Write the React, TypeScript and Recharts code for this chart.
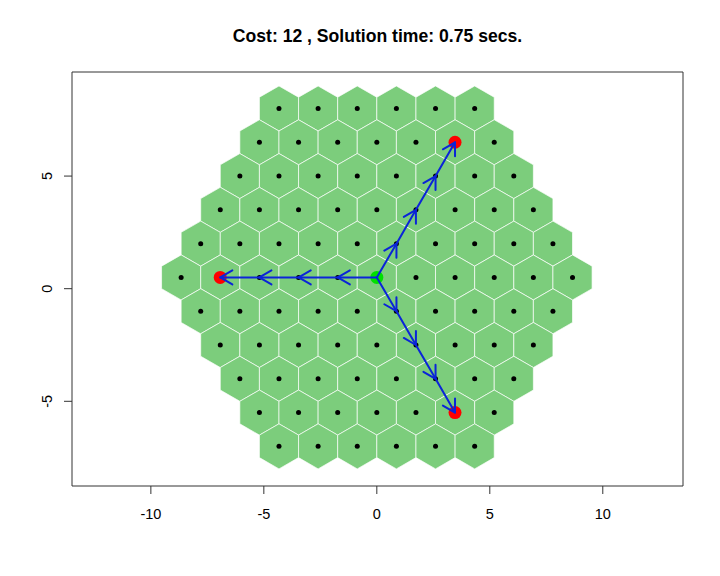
import React from 'react';
import { ScatterChart, Scatter, XAxis, YAxis, ReferenceArea } from 'recharts';

const TITLE = 'Cost: 12 , Solution time: 0.75 secs.';
const X_TICKS = [-10, -5, 0, 5, 10];
const Y_TICKS = [-5, 0, 5];
const X_DOMAIN = [-13.49, 13.55];
const Y_DOMAIN = [-8.76, 9.62];

// hex board, rows top to bottom: centre height and number of cells in the row
const ROW_Y = [8, 6.5, 5, 3.5, 2, 0.5, -1, -2.5, -4, -5.5, -7];
const ROW_CELLS = [6, 7, 8, 9, 10, 11, 10, 9, 8, 7, 6];
const CELL_STEP = 1.732;
const HEX_RADIUS = 1;

const START = [{ x: 0, y: 0.5 }];
const GOALS = [
  { x: -6.93, y: 0.5 },
  { x: 3.46, y: 6.5 },
  { x: 3.46, y: -5.5 },
];
const PATH_WEST = [
  { x: 0, y: 0.5 },
  { x: -1.73, y: 0.5 },
  { x: -3.46, y: 0.5 },
  { x: -5.2, y: 0.5 },
  { x: -6.93, y: 0.5 },
];
const PATH_NORTH = [
  { x: 0, y: 0.5 },
  { x: 0.87, y: 2 },
  { x: 1.73, y: 3.5 },
  { x: 2.6, y: 5 },
  { x: 3.46, y: 6.5 },
];
const PATH_SOUTH = [
  { x: 0, y: 0.5 },
  { x: 0.87, y: -1 },
  { x: 1.73, y: -2.5 },
  { x: 2.6, y: -4 },
  { x: 3.46, y: -5.5 },
];

const FONT = '"Liberation Sans", Arial, sans-serif';

const cells = ROW_Y.flatMap((y, r) =>
  Array.from({ length: ROW_CELLS[r] }, (_, j) => ({
    x: (j - (ROW_CELLS[r] - 1) / 2) * CELL_STEP,
    y,
  }))
);

const HEX_ANGLES = [90, 150, 210, 270, 330, 30].map((d) => (d * Math.PI) / 180);
const hexagons = cells.map((c) =>
  HEX_ANGLES.map((a) => ({ x: c.x + HEX_RADIUS * Math.cos(a), y: c.y + HEX_RADIUS * Math.sin(a) }))
);

const NoDot = () => <g />;

const HexPolygon = (props: any) => (
  <polygon
    points={props.points.map((p: any) => `${p.x},${p.y}`).join(' ')}
    fill="#7ccd7c"
    stroke="#ffffff"
    strokeWidth={0.8}
    strokeOpacity={0.85}
  />
);

const ArrowPath = (props: any) => {
  const pts = props.points;
  const head = 14;
  const spread = Math.PI / 6;
  const parts = [];
  for (let i = 1; i < pts.length; i++) {
    const a = pts[i - 1];
    const b = pts[i];
    const ang = Math.atan2(b.y - a.y, b.x - a.x);
    const l1 = { x: b.x - head * Math.cos(ang - spread), y: b.y - head * Math.sin(ang - spread) };
    const l2 = { x: b.x - head * Math.cos(ang + spread), y: b.y - head * Math.sin(ang + spread) };
    parts.push(
      <g key={i}>
        <line x1={a.x} y1={a.y} x2={b.x} y2={b.y} />
        <polyline points={`${l1.x},${l1.y} ${b.x},${b.y} ${l2.x},${l2.y}`} fill="none" />
      </g>
    );
  }
  return (
    <g stroke="#0a24d8" strokeWidth={2} strokeLinecap="round" strokeLinejoin="round">
      {parts}
    </g>
  );
};

const YTick = (props: any) => {
  const { x, y, payload } = props;
  return (
    <text
      x={x}
      y={y}
      transform={`rotate(-90 ${x} ${y})`}
      textAnchor="middle"
      fontSize={14.5}
      fontFamily={FONT}
      fill="#000"
    >
      {payload.value}
    </text>
  );
};

export default function App() {
  return (
    <div style={{ position: 'absolute', left: 0, top: 0, width: 720, height: 576, background: '#fff' }}>
      <div
        style={{
          position: 'absolute',
          left: 72,
          top: 26,
          width: 611,
          lineHeight: '20px',
          textAlign: 'center',
          fontFamily: FONT,
          fontWeight: 'bold',
          fontSize: 17.6,
          color: '#000',
        }}
      >
        {TITLE}
      </div>
      <ScatterChart width={720} height={576} margin={{ top: 72, right: 37, left: 32, bottom: 50 }}>
        <XAxis
          type="number"
          dataKey="x"
          domain={X_DOMAIN}
          ticks={X_TICKS}
          interval={0}
          allowDataOverflow
          height={40}
          axisLine={false}
          tickLine={{ stroke: '#333' }}
          tickSize={8}
          tickMargin={15}
          tick={{ fontSize: 14.5, fill: '#000', fontFamily: FONT }}
        />
        <YAxis
          type="number"
          dataKey="y"
          domain={Y_DOMAIN}
          ticks={Y_TICKS}
          interval={0}
          allowDataOverflow
          width={40}
          axisLine={false}
          tickLine={{ stroke: '#333' }}
          tickSize={8}
          tickMargin={12}
          tick={<YTick />}
        />
        {hexagons.map((hex, i) => (
          <Scatter
            key={`hex-${i}`}
            data={hex}
            line={<HexPolygon />}
            lineType="joint"
            shape={NoDot}
            isAnimationActive={false}
          />
        ))}
        <Scatter data={cells} fill="#000" shape={(p: any) => <circle cx={p.cx} cy={p.cy} r={2.5} fill="#000" />} isAnimationActive={false} />
        <Scatter data={START} shape={(p: any) => <circle cx={p.cx} cy={p.cy} r={6.5} fill="#00e000" />} isAnimationActive={false} />
        <Scatter data={GOALS} shape={(p: any) => <circle cx={p.cx} cy={p.cy} r={6.5} fill="#ff0000" />} isAnimationActive={false} />
        {[PATH_WEST, PATH_NORTH, PATH_SOUTH].map((path, i) => (
          <Scatter
            key={`path-${i}`}
            data={path}
            line={<ArrowPath />}
            lineType="joint"
            shape={NoDot}
            isAnimationActive={false}
          />
        ))}
        <ReferenceArea
          x1={X_DOMAIN[0]}
          x2={X_DOMAIN[1]}
          y1={Y_DOMAIN[0]}
          y2={Y_DOMAIN[1]}
          fill="none"
          stroke="#333"
          strokeWidth={1}
          ifOverflow="visible"
        />
      </ScatterChart>
    </div>
  );
}
